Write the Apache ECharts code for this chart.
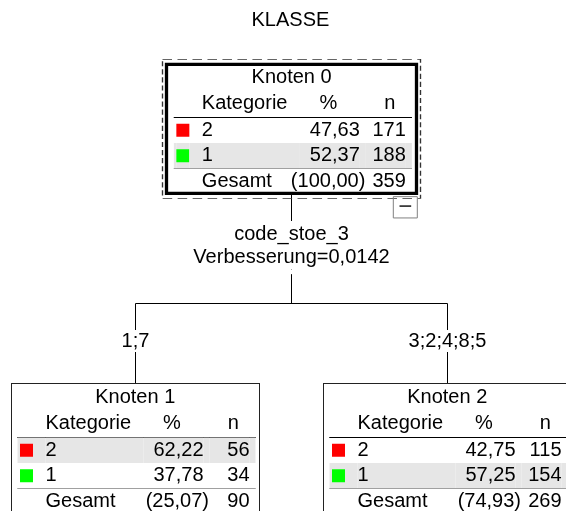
<!DOCTYPE html>
<html>
<head>
<meta charset="utf-8">
<script src="https://cdn.jsdelivr.net/npm/echarts@6.0.0/dist/echarts.min.js"></script>
<style>
  html, body { margin: 0; padding: 0; background: #fff; }
  #chart { width: 566px; height: 511px; }
</style>
</head>
<body>
<div id="chart"></div>
<script>
// tree content
const dependentName = 'KLASSE';
const categories = ['2', '1'];
const categoryColors = ['#ff0000', '#00ff00'];
const nodeNames = ['Knoten 0', 'Knoten 1', 'Knoten 2'];
const nodeCounts = [[171, 188], [56, 34], [115, 154]];
const nodePercents = [[47.63, 52.37], [62.22, 37.78], [42.75, 57.25]];
const nodeTotals = [359, 90, 269];
const nodeTotalPercents = [100.0, 25.07, 74.93];
const splitVariable = 'code_stoe_3';
const splitImprovement = 0.0142;
const branchLabels = ['1;7', '3;2;4;8;5'];

const FONT = 'Liberation Sans';
const SHADE = '#e6e6e6';
const TABLE_W = 238;

// rich styles get generated names, one per token
const rich = {};
let styleNo = 0;
function tok(text, style) {
  const name = 't' + styleNo++;
  rich[name] = Object.assign({ fontFamily: FONT, fontSize: 20, color: '#000', align: 'left' }, style);
  return '{' + name + '|' + text + '}';
}
const fmt = (v, d) => v.toFixed(d).replace('.', ',');

function tableText(i) {
  const counts = nodeCounts[i];
  const shaded = counts.indexOf(Math.max(...counts));
  const lines = [];
  lines.push(
    tok(nodeNames[i], { align: 'center', lineHeight: 23 }) +
    tok('', { align: 'right', width: 2.5, lineHeight: 23 })
  );
  const h = { lineHeight: 28.5 };
  lines.push(
    tok('', { ...h, width: 28 }) +
    tok('Kategorie', h) +
    tok('%', { ...h, align: 'right', width: 45 }) +
    tok('n', { ...h, align: 'right', width: 58 }) +
    tok('', { ...h, align: 'right', width: 16.6 })
  );
  lines.push(tok('', { width: TABLE_W, height: 0, lineHeight: 0, borderColor: '#000', borderWidth: 1 }));
  categories.forEach((cat, k) => {
    const r = { lineHeight: 25.5, height: 25.5 };
    if (k === shaded) r.backgroundColor = SHADE;
    const sq = { width: 13, height: 13, lineHeight: 25.5, backgroundColor: categoryColors[k] };
    if (k === shaded) {
      // dashed border fills the band above and below the swatch only
      Object.assign(sq, { borderColor: SHADE, borderWidth: 6.25, borderType: [13, 13] });
    }
    lines.push(
      tok('', { ...r, width: 2.5 }) +
      tok('', sq) +
      tok('', { ...r, width: 12.5 }) +
      tok(cat, { ...r, width: 98 }) +
      tok(fmt(nodePercents[i][k], 2), { ...r, align: 'right', width: 60 }) +
      tok('', { ...r, align: 'right', width: 6 }) +
      tok(String(counts[k]), { ...r, align: 'right', width: 40 }) +
      tok('', { ...r, align: 'right', width: 6 })
    );
  });
  lines.push(tok('', { width: TABLE_W, height: 0, lineHeight: 0, borderColor: '#a0a0a0', borderWidth: 1 }));
  const g = { lineHeight: 23.2, padding: [3.4, 0, 0, 0] };
  lines.push(
    tok('', { width: 28, lineHeight: 23.2 }) +
    tok('Gesamt', { ...g, width: 98 }) +
    tok('(' + fmt(nodeTotalPercents[i], 2) + ')', { ...g, align: 'right', width: 65.5 }) +
    tok('', { align: 'right', width: 0.5, lineHeight: 23.2 }) +
    tok(String(nodeTotals[i]), { ...g, align: 'right', width: 40 }) +
    tok('', { align: 'right', width: 6, lineHeight: 23.2 })
  );
  return lines.join('\n');
}

function splitText() {
  return [
    tok('', { width: 227.6, lineHeight: 31.1 }) +
      tok('\u2212', { align: 'center', width: 24, height: 21.3, lineHeight: 31.1,
        borderColor: '#808080', borderWidth: 1, fontSize: 24, color: '#333' }),
    tok(splitVariable, { align: 'center', lineHeight: 23.3, height: 20,
      padding: [3.5, 3, 3.5, 3], backgroundColor: '#fff' }),
    tok('Verbesserung=' + fmt(splitImprovement, 4), { align: 'center', lineHeight: 23.3, height: 20,
      padding: [1.5, 3, 1.5, 3], backgroundColor: '#fff' }),
    tok('', { align: 'center', width: 10, height: 4.7, lineHeight: 4.7, backgroundColor: '#fff' })
  ].join('\n');
}

const tableTexts = nodeNames.map((_, i) => tableText(i));
const rootSplitText = splitText();

const hiddenSymbol = { symbol: 'rect', symbolSize: 1, itemStyle: { color: 'rgba(0,0,0,0)', borderWidth: 0 } };

const layoutBox = {
  left: -20.5, top: 128.85, width: 624, height: 319,
  orient: 'TB', layout: 'orthogonal',
  edgeShape: 'polyline', edgeForkPosition: '54.75%',
  expandAndCollapse: false, initialTreeDepth: -1, roam: false,
  emphasis: { disabled: true }, silent: true
};

const chart = echarts.init(document.getElementById('chart'), null, { renderer: 'canvas' });
chart.setOption({
  animation: false,
  textStyle: { fontFamily: FONT, fontSize: 20, color: '#000' },
  title: {
    text: dependentName, left: 251.5, top: 10, padding: 0,
    textStyle: { fontFamily: FONT, fontSize: 20, fontWeight: 'normal', color: '#000', lineHeight: 20 }
  },
  series: [
    {
      type: 'tree',
      ...layoutBox,
      ...hiddenSymbol,
      lineStyle: { color: '#000', width: 1, curveness: 0 },
      label: {
        show: true, position: 'inside',
        formatter: (p) => tableTexts[nodeNames.indexOf(p.name)],
        rich,
        color: '#000', fontFamily: FONT, fontSize: 20,
        textBorderWidth: 0, textBorderColor: 'transparent',
        backgroundColor: '#fff', borderColor: '#222', borderWidth: 1,
        padding: [2, 3.5, 0, 5.5]
      },
      data: [{
        name: nodeNames[0],
        label: { borderColor: '#000', borderWidth: 3.3, padding: [0, 3, 0, 5.7] },
        children: [{ name: nodeNames[1] }, { name: nodeNames[2] }]
      }]
    },
    {
      type: 'tree',
      ...layoutBox,
      ...hiddenSymbol,
      lineStyle: { width: 0, color: 'rgba(0,0,0,0)' },
      label: {
        show: true, position: 'inside',
        formatter: (p) => {
          const i = nodeNames.indexOf(p.name);
          return i === 0 ? rootSplitText : branchLabels[i - 1];
        },
        rich,
        color: '#000', fontFamily: FONT, fontSize: 20,
        textBorderWidth: 0, textBorderColor: 'transparent'
      },
      data: [{
        name: nodeNames[0],
        symbol: 'rect', symbolSize: [258, 139],
        itemStyle: { color: 'rgba(0,0,0,0)', borderColor: '#333', borderWidth: 1, borderType: [7, 4] },
        label: { offset: [0, 104.1] },
        children: nodeNames.slice(1).map((name) => ({
          name,
          label: { offset: [0, -106.85], backgroundColor: '#fff', lineHeight: 22, padding: [0, 2] }
        }))
      }]
    }
  ]
});
</script>
</body>
</html>
